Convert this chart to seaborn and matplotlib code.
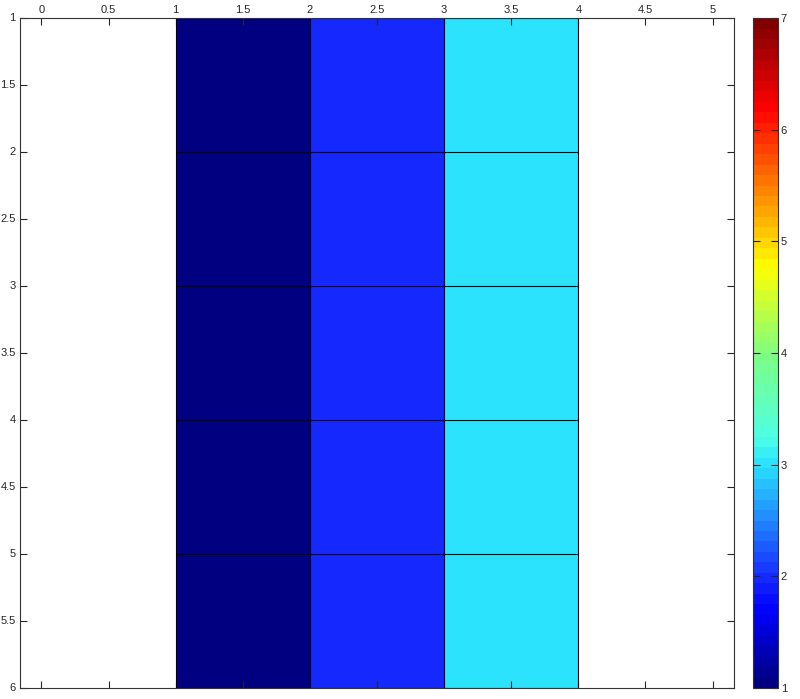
import numpy as np
import pandas as pd
from matplotlib import pyplot as plt
from matplotlib.colors import LinearSegmentedColormap
import seaborn as sns

# значения по столбцам (x = 1-2, 2-3, 3-4), одинаковые во всех 5 строках (y = 1..6)
x_edges = [0, 1, 2, 3, 4, 5]
y_edges = [0, 1, 2, 3, 4, 5, 6]
col_values = [np.nan, 1, 2, 3, np.nan]
row_filled = [False, True, True, True, True, True]

xticks = [0, 0.5, 1, 1.5, 2, 2.5, 3, 3.5, 4, 4.5, 5]
yticks = [1, 1.5, 2, 2.5, 3, 3.5, 4, 4.5, 5, 5.5, 6]
cbar_ticks = [1, 2, 3, 4, 5, 6, 7]

grid = pd.DataFrame([[v if f else np.nan for v in col_values] for f in row_filled],
                    index=y_edges[:-1], columns=x_edges[:-1])

plt.rcParams['font.family'] = ['Liberation Sans', 'DejaVu Sans']

# jet как в исходной картинке (чуть светлее matplotlib-овского)
jet = LinearSegmentedColormap.from_list('jet_ref', [
    (0.0, (0, 0, 0.5)),
    (0.11, (0, 0, 1)),
    (0.164, (0.09, 0.18, 1)),
    (0.33, (0.16, 0.88, 1)),
    (0.37, (0.3, 1, 0.9)),
    (0.5, (0.5, 1, 0.5)),
    (0.63, (1, 1, 0)),
    (0.87, (1, 0, 0)),
    (1.0, (0.5, 0, 0)),
], N=64)

fig = plt.figure(figsize=(8, 6.99), dpi=100)
ax = fig.add_axes([0.025, 0.0157, 0.8925, 0.9585])
cax = fig.add_axes([0.941, 0.0157, 0.0313, 0.9585])

sns.heatmap(grid, ax=ax, cbar_ax=cax, cmap=jet, vmin=1, vmax=7, linewidths=0)

# границы клеток только вокруг заполненной области
filled_cols = [i for i, v in enumerate(col_values) if not np.isnan(v)]
filled_rows = [i for i, f in enumerate(row_filled) if f]
x0, x1 = x_edges[filled_cols[0]], x_edges[filled_cols[-1] + 1]
y0, y1 = y_edges[filled_rows[0]], y_edges[filled_rows[-1] + 1]
ax.vlines(x_edges[filled_cols[0]:filled_cols[-1] + 2], y0, y1, colors='black', linewidth=0.8)
ax.hlines(y_edges[filled_rows[0]:filled_rows[-1] + 2], x0, x1, colors='black', linewidth=0.8)

ax.set_xlim(-0.16, 5.16)
ax.set_ylim(6, 1)
for s in ax.spines.values():
    s.set_visible(True)
    s.set_color('#333333')
    s.set_linewidth(0.8)
    s.set_zorder(5)

txt = '#262626'
ax.set_xticks(xticks)
ax.set_xticklabels([f'{t:g}' for t in xticks], rotation=0)
ax.set_yticks(yticks)
ax.set_yticklabels([f'{t:g}' for t in yticks], rotation=0)
ax.xaxis.tick_top()
ax.tick_params(axis='x', top=True, bottom=True, labeltop=True, labelbottom=False,
               direction='in', length=5, width=0.8, pad=2, labelsize=8,
               colors=txt)
ax.tick_params(axis='y', left=True, right=True, labelleft=True, labelright=False,
               direction='in', length=5, width=0.8, pad=3, labelsize=8,
               colors=txt)
ax.set_xlabel('')
ax.set_ylabel('')

cb = ax.collections[0].colorbar
cb.outline.set_linewidth(0.8)
cb.outline.set_edgecolor('#333333')
cb.set_ticks(cbar_ticks)
cb.set_ticklabels([str(t) for t in cbar_ticks])
cax.tick_params(axis='y', left=True, right=True, direction='in', length=5,
                width=0.8, pad=2, labelsize=8, colors=txt)

fig.savefig('out.png', dpi=100)
